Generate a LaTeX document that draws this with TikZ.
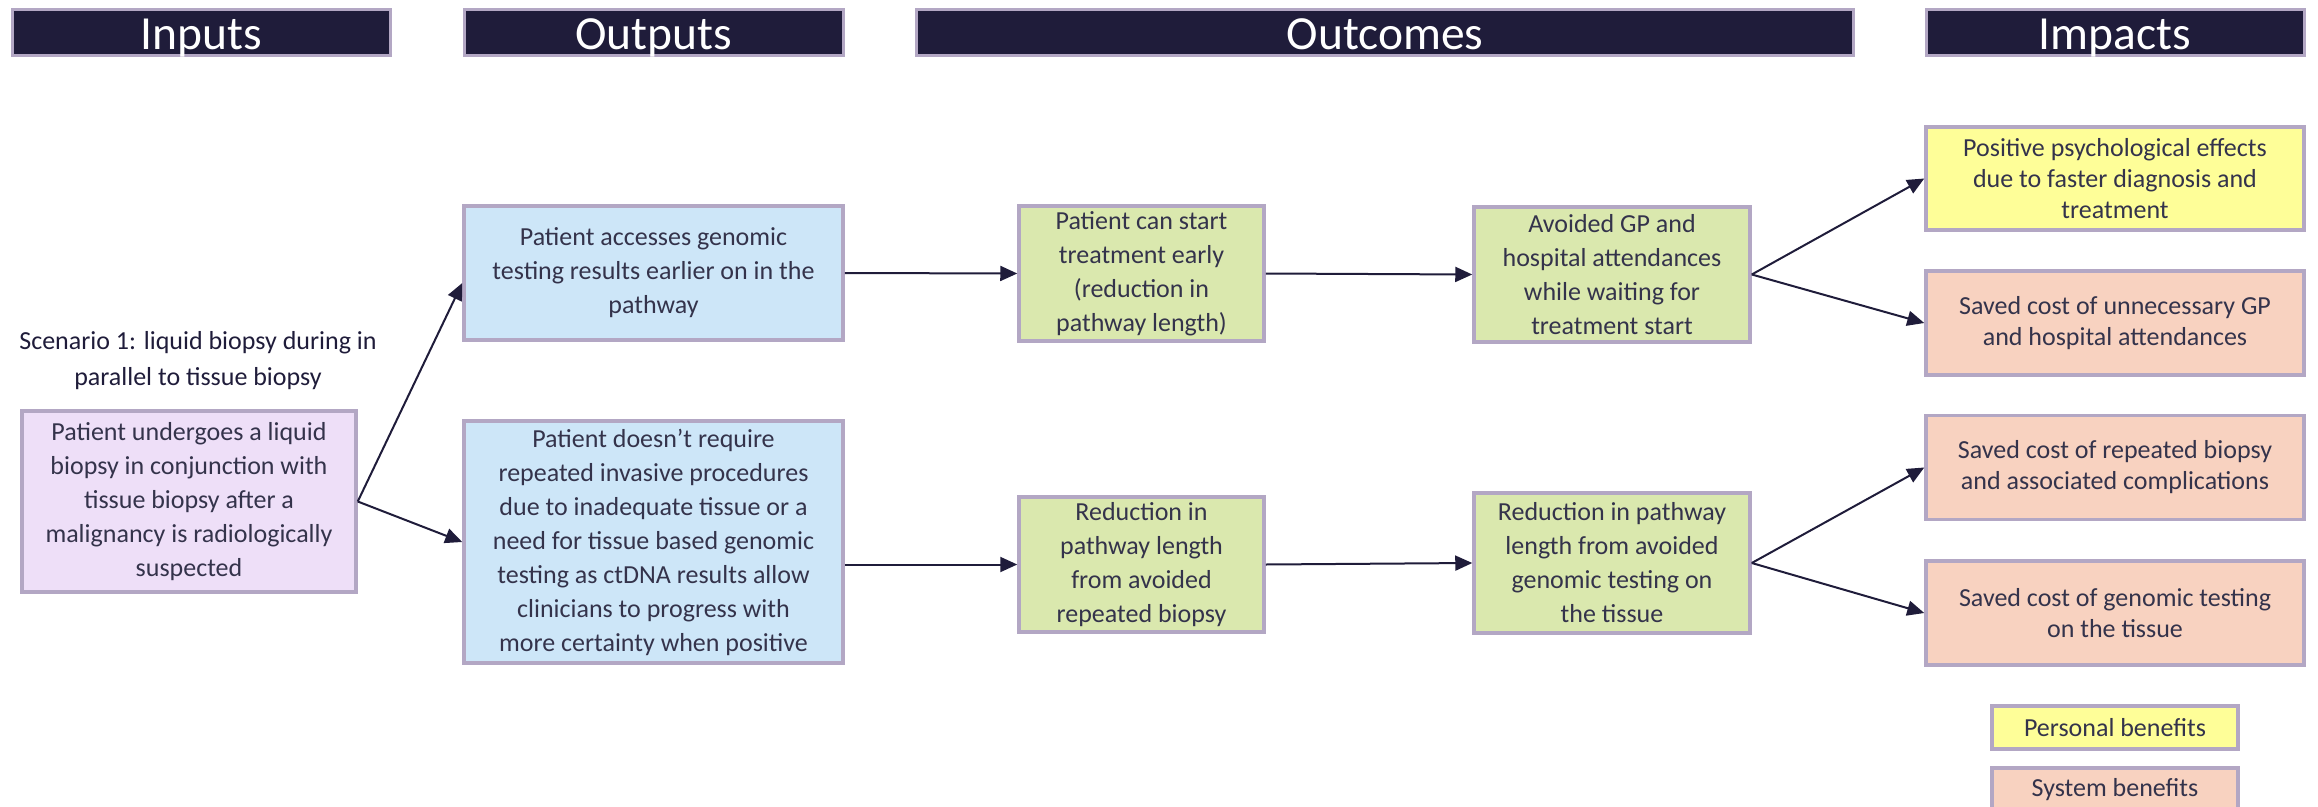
\documentclass[tikz,border=0pt]{standalone}
\usepackage{fontspec}
\setmainfont{Carlito}
\usetikzlibrary{arrows.meta,calc}

\definecolor{navy}{HTML}{1F1C3A}
\definecolor{edge}{HTML}{B3A7C4}
\definecolor{txt}{HTML}{34334B}
\definecolor{lilac}{HTML}{EEDFF8}
\definecolor{skyblue}{HTML}{CDE6F8}
\definecolor{lime}{HTML}{DAE8AE}
\definecolor{lemon}{HTML}{FEFE98}
\definecolor{peach}{HTML}{F8D2C0}

\tikzset{
  header/.style={fill=navy, draw=edge, line width=3pt, text=white,
    minimum height=46pt, inner sep=0pt, text height=40pt, text depth=6pt,
    font=\fontsize{47.5}{50}\selectfont},
  card/.style={draw=edge, line width=3.5pt, text=txt, align=center,
    inner sep=0pt, font=\fontsize{26}{34}\selectfont},
  inputbox/.style={card, fill=lilac},
  outputbox/.style={card, fill=skyblue, minimum width=379pt},
  outcomebox/.style={card, fill=lime},
  personal/.style={card, fill=lemon, minimum width=378pt,
    font=\fontsize{26}{31}\selectfont},
  systemic/.style={card, fill=peach, minimum width=378pt,
    font=\fontsize{26}{31}\selectfont},
  legendbox/.style={card, minimum width=246pt, minimum height=43pt},
  link/.style={draw=navy, line width=2pt,
    -{Triangle[length=17pt,width=15pt]}},
}

\begin{document}
\begin{tikzpicture}[x=1pt, y=-1pt]
  \useasboundingbox (0,0) rectangle (2318,806);

  % column headers
  \node[header, minimum width=378pt] (hIn)   at (201,32)    {Inputs};
  \node[header, minimum width=379pt] (hOut)  at (653.5,32)  {Outputs};
  \node[header, minimum width=937pt] (hOc)   at (1385,32)   {Outcomes};
  \node[header, minimum width=378pt] (hImp)  at (2115,32)   {Impacts};

  % scenario caption and input
  \node[text=navy, align=center, font=\fontsize{26}{36}\selectfont] (scen) at (198,361)
    {Scenario 1: liquid biopsy during in\\parallel to tissue biopsy};
  \node[inputbox, minimum width=334pt, minimum height=181pt] (inp) at (189,501.5)
    {Patient undergoes a liquid\\biopsy in conjunction with\\tissue biopsy after a\\malignancy is radiologically\\suspected};

  % outputs
  \node[outputbox, minimum height=134pt] (b1) at (653.5,273)
    {Patient accesses genomic\\testing results earlier on in the\\pathway};
  \node[outputbox, minimum height=242pt] (b2) at (653.5,542)
    {Patient doesn’t require\\repeated invasive procedures\\due to inadequate tissue or a\\need for tissue based genomic\\testing as ctDNA results allow\\clinicians to progress with\\more certainty when positive};

  % outcomes
  \node[outcomebox, minimum width=245pt, minimum height=135pt] (g1t) at (1141.5,273.5)
    {Patient can start\\treatment early\\(reduction in\\pathway length)};
  \node[outcomebox, minimum width=245pt, minimum height=135pt] (g1b) at (1141.5,564.5)
    {Reduction in\\pathway length\\from avoided\\repeated biopsy};
  \node[outcomebox, minimum width=276pt, minimum height=135pt] (g2t) at (1612,274.5)
    {Avoided GP and\\hospital attendances\\while waiting for\\treatment start};
  \node[outcomebox, minimum width=276pt, minimum height=140pt] (g2b) at (1612,563)
    {Reduction in pathway\\length from avoided\\genomic testing on\\the tissue};

  % impacts
  \node[personal, minimum height=103pt] (i1) at (2115,178.5)
    {Positive psychological effects\\due to faster diagnosis and\\treatment};
  \node[systemic, minimum height=104pt] (i2) at (2115,323)
    {Saved cost of unnecessary GP\\and hospital attendances};
  \node[systemic, minimum height=104pt] (i3) at (2115,467.5)
    {Saved cost of repeated biopsy\\and associated complications};
  \node[systemic, minimum height=104pt] (i4) at (2115,613)
    {Saved cost of genomic testing\\on the tissue};

  % legend
  \node[legendbox, fill=lemon] (lp) at (2115,727.5) {Personal benefits};
  \node[legendbox, fill=peach] (ls) at (2115,789.5) {System benefits};

  % connectors
  \draw[link] (inp.east) -- ($(b1.west)+(0,10)$);
  \draw[link] (inp.east) -- (b2.west);
  \draw[link] (b1.east) -- (g1t.west);
  \draw[link] (b2.east |- g1b.west) -- (g1b.west);
  \draw[link] (g1t.east) -- (g2t.west);
  \draw[link] (g1b.east) -- (g2b.west);
  \draw[link] (g2t.east) -- (i1.west);
  \draw[link] (g2t.east) -- (i2.west);
  \draw[link] (g2b.east) -- (i3.west);
  \draw[link] (g2b.east) -- (i4.west);
\end{tikzpicture}
\end{document}
